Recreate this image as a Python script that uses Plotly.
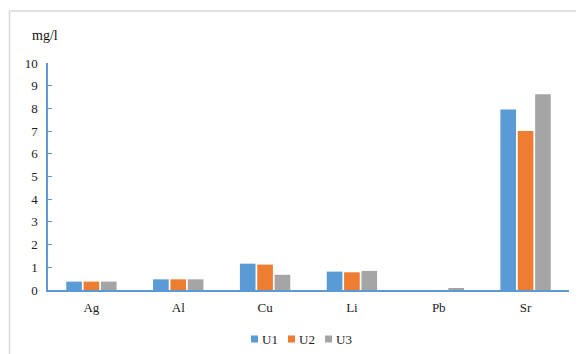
import plotly.graph_objects as go

categories = ["Ag", "Al", "Cu", "Li", "Pb", "Sr"]
u1 = [0.37, 0.47, 1.16, 0.81, 0.0, 7.95]
u2 = [0.37, 0.47, 1.12, 0.78, 0.0, 7.0]
u3 = [0.37, 0.47, 0.67, 0.84, 0.05, 8.62]
series_names = ["U1", "U2", "U3"]
colors = ["#5B9BD5", "#ED7D31", "#A5A5A5"]

W, H = 584, 354
OFF = 8  # page body margin offset
# target pixel positions in the screenshot
plot_left, plot_right, plot_top, plot_bottom = 48, 569, 63, 290
L = plot_left - OFF
R = W - (plot_right - OFF)
T = plot_top - OFF
B = H - (plot_bottom - OFF)

pw = W - L - R
ph = H - T - B
def px_x(p):
    return (p - OFF - L) / pw
def px_y(p):
    return (H - B - (p - OFF)) / ph

fig = go.Figure()
for name, vals, c in zip(series_names, [u1, u2, u3], colors):
    fig.add_trace(go.Bar(x=categories, y=vals, name=name,
                         marker=dict(color=c, line=dict(width=0)), showlegend=False))

font_family = "Liberation Serif, Times New Roman, serif"

annotations = [dict(text="mg/l", xref="paper", yref="paper", x=px_x(30), y=px_y(36),
                    xanchor="left", yanchor="middle", showarrow=False,
                    font=dict(size=14, family=font_family, color="#111"))]
shapes = [dict(type="rect", xref="paper", yref="paper", x0=px_x(9.5), y0=px_y(11),
               x1=px_x(620), y1=px_y(400), line=dict(color="#D9D9D9", width=1.5))]

# legend: squares + labels
leg_sq_x = [251, 288, 325]
leg_y = 339
for name, c, sx in zip(series_names, colors, leg_sq_x):
    shapes.append(dict(type="rect", xref="paper", yref="paper",
                       x0=px_x(sx), x1=px_x(sx + 7), y0=px_y(leg_y + 3.5), y1=px_y(leg_y - 3.5),
                       fillcolor=c, line=dict(width=0)))
    annotations.append(dict(text=name, xref="paper", yref="paper", x=px_x(sx + 9), y=px_y(leg_y),
                            xanchor="left", yanchor="middle", showarrow=False,
                            font=dict(size=13, family=font_family, color="#222")))

fig.update_layout(
    width=W, height=H, autosize=False,
    margin=dict(l=L, r=R, t=T, b=B, autoexpand=False),
    paper_bgcolor="white", plot_bgcolor="white",
    font=dict(family=font_family, size=13, color="#222"),
    barmode="group", bargap=0.4, bargroupgap=0.1,
    showlegend=False,
    xaxis=dict(showline=True, linecolor="#5B9BD5", linewidth=1.5, ticks="", showgrid=False,
               tickfont=dict(size=13), ticklabelstandoff=5, automargin=False),
    yaxis=dict(range=[0, 10], dtick=1, showline=True, linecolor="#5B9BD5", linewidth=1.5,
               ticks="inside", ticklen=4, tickcolor="#5B9BD5", showgrid=False,
               tickfont=dict(size=13), zeroline=False, automargin=False, ticklabelstandoff=6),
    annotations=annotations,
    shapes=shapes,
)

fig.write_html("out.html")
